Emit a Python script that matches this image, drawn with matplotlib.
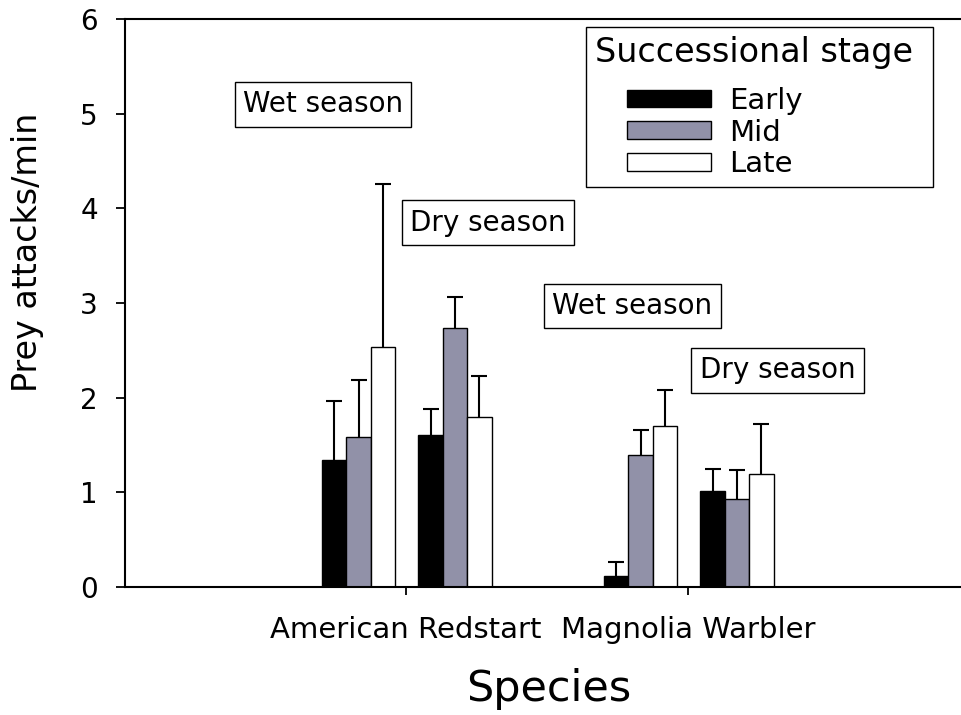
import numpy as np
import matplotlib
matplotlib.use("Agg")
import matplotlib.pyplot as plt
from matplotlib.patches import Rectangle
from matplotlib.container import BarContainer
from matplotlib.legend_handler import HandlerPatch, update_from_first_child

plt.rcParams['font.family'] = ['DejaVu Sans']

# ---------------- data ----------------
species = ["American Redstart", "Magnolia Warbler"]
stages = ["Early", "Mid", "Late"]
seasons = ["Wet season", "Dry season"]

wet_early = [1.34, 0.12]
wet_mid = [1.58, 1.39]
wet_late = [2.53, 1.70]
dry_early = [1.61, 1.01]
dry_mid = [2.74, 0.93]
dry_late = [1.80, 1.19]

wet_early_se = [0.62, 0.14]
wet_mid_se = [0.61, 0.27]
wet_late_se = [1.73, 0.38]
dry_early_se = [0.27, 0.24]
dry_mid_se = [0.32, 0.31]
dry_late_se = [0.43, 0.53]

yticks = [0, 1, 2, 3, 4, 5, 6]

# ---------------- figure ----------------
W, H = 962, 715
fig = plt.figure(figsize=(W / 100, H / 100), dpi=100)
ax_left, ax_right, ax_top, ax_bot = 125, 962, 19, 587
ax = fig.add_axes([ax_left / W, (H - ax_bot) / H, (ax_right - ax_left) / W, (ax_bot - ax_top) / H])

colors = ["black", "#9191A8", "white"]
bw = 0.0865
group_off = {"Wet season": -0.168, "Dry season": 0.174}
x = np.arange(len(species))

season_data = {
    "Wet season": ([wet_early, wet_mid, wet_late], [wet_early_se, wet_mid_se, wet_late_se]),
    "Dry season": ([dry_early, dry_mid, dry_late], [dry_early_se, dry_mid_se, dry_late_se]),
}

for season in seasons:
    means, errs = season_data[season]
    for i, stage in enumerate(stages):
        xs = x + group_off[season] + (i - 1) * bw
        ax.bar(xs, means[i], bw, color=colors[i], edgecolor='black', linewidth=1.0,
               label=stage if season == "Wet season" else None, zorder=2)
        eb = ax.errorbar(xs, means[i], yerr=[np.zeros(len(xs)), errs[i]], fmt='none',
                         ecolor='black', elinewidth=1.5, capsize=6, capthick=1.5, zorder=3)
        eb.lines[1][0].set_visible(False)

# season annotation boxes
season_label_pos = [(-0.294, 5.10), (0.291, 3.85), (0.803, 2.97), (1.317, 2.29)]
season_label_txt = [seasons[0], seasons[1], seasons[0], seasons[1]]
for (tx, ty), t in zip(season_label_pos, season_label_txt):
    ax.text(tx, ty, t, ha='center', va='center', fontsize=20, zorder=5,
            bbox=dict(boxstyle='square,pad=0.3', fc='white', ec='black', lw=1.0))

# axes
px_per_unit = 282.0
x0 = 406.0
ax.set_xlim((ax_left - x0) / px_per_unit, (ax_right - x0) / px_per_unit)
ax.set_ylim(0, 6)
ax.set_xticks(x)
ax.set_xticklabels(species, fontsize=21)
ax.set_yticks(yticks)
ax.set_yticklabels([str(v) for v in yticks], fontsize=20)
ax.tick_params(axis='y', direction='out', length=6.5, width=1.3, pad=13)
ax.tick_params(axis='x', direction='out', length=6, width=1.3, pad=15)
for s in ['left', 'bottom', 'top']:
    ax.spines[s].set_linewidth(1.5)
ax.spines['right'].set_visible(False)

ax.set_ylabel("Prey attacks/min", fontsize=24)
ax.yaxis.set_label_coords((44 - ax_left) / (ax_right - ax_left), (ax_bot - 252) / (ax_bot - ax_top))
ax.set_xlabel("Species", fontsize=31)
ax.xaxis.set_label_coords((549 - ax_left) / (ax_right - ax_left), (ax_bot - 668) / (ax_bot - ax_top))

# legend
def indented_rect(legend, orig_handle, xdescent, ydescent, width, height, fontsize):
    f = 0.28
    return Rectangle((-xdescent + width * f, -ydescent), width * (1 - f), height)

handles, labels = ax.get_legend_handles_labels()
leg = ax.legend(handles, labels, title="Successional stage", title_fontsize=24, fontsize=21,
                loc='upper left', mode='expand', alignment='left',
                bbox_to_anchor=(586 / W, (H - 183) / H, (933 - 586) / W, (183 - 27) / H),
                bbox_transform=fig.transFigure, borderaxespad=0, borderpad=0.3,
                handlelength=4.0, handleheight=0.56, handletextpad=0.62, labelspacing=0.13,
                fancybox=False, framealpha=1, edgecolor='black',
                handler_map={BarContainer: HandlerPatch(patch_func=indented_rect,
                                                        update_func=update_from_first_child)})
leg.get_frame().set_linewidth(1.0)
leg._legend_box.sep = 13

fig.savefig("out.png", dpi=100)
